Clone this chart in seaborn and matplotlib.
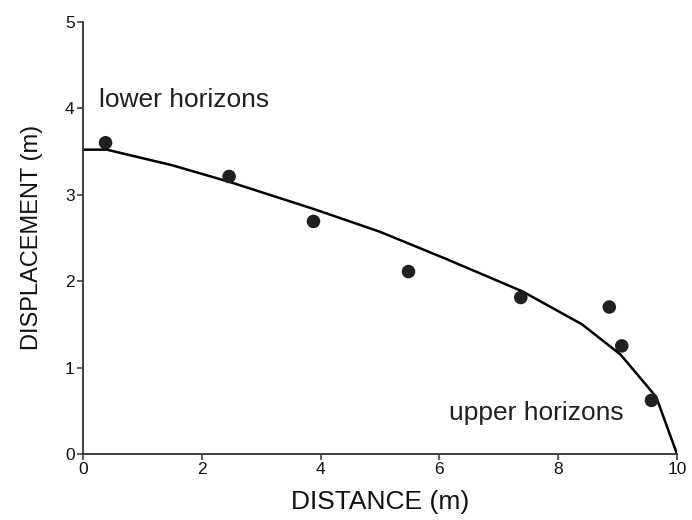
import matplotlib
matplotlib.use("Agg")
import matplotlib.pyplot as plt
import seaborn as sns
import pandas as pd

# Measured points
dist_obs = [0.38, 2.46, 3.88, 5.48, 7.37, 8.86, 9.07, 9.57]
disp_obs = [3.60, 3.21, 2.69, 2.11, 1.81, 1.70, 1.25, 0.62]

# Model curve
dist_model = [0.0, 0.4, 1.5, 2.5, 3.9, 5.0, 6.1, 7.4, 8.4, 9.05, 9.65, 10.0]
disp_model = [3.52, 3.52, 3.34, 3.14, 2.83, 2.57, 2.26, 1.88, 1.50, 1.15, 0.66, 0.0]

x_ticks = [0, 2, 4, 6, 8, 10]
y_ticks = [0, 1, 2, 3, 4, 5]

sns.set_style("ticks")
plt.rcParams['font.family'] = ['Liberation Sans', 'DejaVu Sans']

fig = plt.figure(figsize=(6.92, 5.2), dpi=100)
ax = fig.add_axes([83/692, 66/520, 594/692, (454-21.7)/520])

df_model = pd.DataFrame({"x": dist_model, "y": disp_model})
df_obs = pd.DataFrame({"x": dist_obs, "y": disp_obs})

sns.lineplot(data=df_model, x="x", y="y", sort=False, color="black",
             linewidth=1.8, ax=ax, zorder=2)
sns.scatterplot(data=df_obs, x="x", y="y", color="#231f20", s=95,
                edgecolor="none", ax=ax, zorder=3)

ax.set_xlim(0, 10)
ax.set_ylim(0, 5)
ax.set_xticks(x_ticks)
ax.set_yticks(y_ticks)
ax.tick_params(axis="both", labelsize=12.5, length=4, width=1.1,
               color="#333333", labelcolor="#111111", pad=2)
for side in ("left", "bottom"):
    ax.spines[side].set_linewidth(1.3)
    ax.spines[side].set_color("#333333")
sns.despine(ax=ax)

ax.set_xlabel("DISTANCE (m)", fontsize=19, color="#111111", labelpad=9)
ax.set_ylabel("DISPLACEMENT (m)", fontsize=17, color="#111111", labelpad=16)

ax.text(0.27, 4.01, "lower horizons", fontsize=19, color="#231f20",
        ha="left", va="baseline")
ax.text(6.17, 0.39, "upper horizons", fontsize=19, color="#231f20",
        ha="left", va="baseline")

fig.savefig("out.png", dpi=100)
